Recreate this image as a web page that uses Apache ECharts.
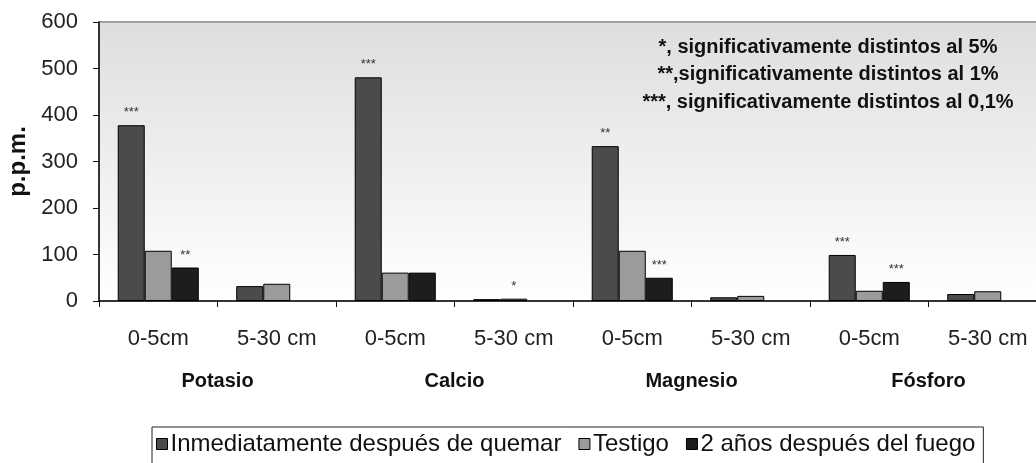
<!DOCTYPE html>
<html>
<head>
<meta charset="utf-8">
<script src="https://cdn.jsdelivr.net/npm/echarts@6/dist/echarts.min.js"></script>
<style>
  html, body { margin: 0; padding: 0; background: #ffffff; }
  #chart { width: 1036px; height: 463px; }
</style>
</head>
<body>
<div id="chart"></div>
<script>
// Soil depth classes, repeated for each nutrient
const depths = ['0-5cm', '5-30 cm', '0-5cm', '5-30 cm', '0-5cm', '5-30 cm', '0-5cm', '5-30 cm'];
const nutrients = ['Potasio', 'Calcio', 'Magnesio', 'Fósforo'];

// Concentrations in p.p.m.
const seriesNames = ['Inmediatamente después de quemar', 'Testigo', '2 años después del fuego'];
const afterBurn = [378, 32, 481, 4, 333, 8, 99, 15];
const control = [108, 37, 61, 5, 108, 11, 22, 21];
const twoYears = [72, null, 61, null, 50, null, 41, null];

// Significance marks shown above each bar
const sigAfterBurn = ['***', '', '***', '', '**', '', '***', ''];
const sigControl = ['', '', '', '*', '', '', '', ''];
const sigTwoYears = ['**', '', '', '', '***', '', '***', ''];

const yTicks = [0, 100, 200, 300, 400, 500, 600];

const notes = [
  '*, significativamente distintos al 5%',
  '**,significativamente distintos al 1%',
  '***, significativamente distintos al 0,1%'
];

const colors = ['#4b4b4b', '#9b9b9b', '#1d1d1d'];
const FONT = 'Liberation Sans, Arial, sans-serif';

function barSeries(name, data, marks, color) {
  return {
    name: name,
    type: 'bar',
    data: data,
    barGap: '0%',
    barCategoryGap: '31.6%',
    itemStyle: { color: color, borderColor: '#000', borderWidth: 1 },
    label: {
      show: true,
      position: 'top',
      distance: 6,
      fontFamily: FONT,
      fontSize: 13,
      color: '#333',
      formatter: p => marks[p.dataIndex] || ''
    }
  };
}

const chart = echarts.init(document.getElementById('chart'));
chart.setOption({
  animation: false,
  backgroundColor: '#ffffff',
  grid: {
    left: 99, top: 22, width: 948, height: 279,
    outerBoundsMode: 'none',
    containLabel: false,
    show: true,
    borderColor: '#a0a0a0',
    borderWidth: 2,
    backgroundColor: new echarts.graphic.LinearGradient(0, 0, 0, 1, [
      { offset: 0, color: '#dedede' },
      { offset: 1, color: '#ffffff' }
    ])
  },
  legend: {
    data: seriesNames,
    left: 152, top: 427,
    icon: 'rect',
    itemWidth: 11, itemHeight: 11,
    itemGap: 17,
    padding: [5, 8, 10, 4],
    borderColor: '#222',
    borderWidth: 1,
    backgroundColor: '#ffffff',
    itemStyle: { borderColor: '#000', borderWidth: 1 },
    textStyle: { fontFamily: FONT, fontSize: 24, color: '#111', padding: [0, 0, 0, -2] }
  },
  xAxis: [
    {
      type: 'category',
      data: depths,
      axisLine: { lineStyle: { color: '#111', width: 1.5 } },
      axisTick: { show: true, length: 6, lineStyle: { color: '#111' } },
      axisLabel: { fontFamily: FONT, fontSize: 22, color: '#222', margin: 27 }
    },
    {
      type: 'category',
      data: nutrients,
      position: 'bottom',
      offset: 62,
      axisLine: { show: false },
      axisTick: { show: false },
      axisLabel: { fontFamily: FONT, fontSize: 20, fontWeight: 'bold', color: '#111', margin: 8 }
    }
  ],
  yAxis: {
    type: 'value',
    min: yTicks[0],
    max: yTicks[yTicks.length - 1],
    interval: 100,
    name: 'p.p.m.',
    nameLocation: 'middle',
    nameRotate: 90,
    nameGap: 67,
    nameTextStyle: { fontFamily: FONT, fontSize: 24, fontWeight: 'bold', color: '#111' },
    axisLine: { show: true, lineStyle: { color: '#111', width: 1.5 } },
    axisTick: { show: true, length: 6, lineStyle: { color: '#111' } },
    splitLine: { show: false },
    axisLabel: { fontFamily: FONT, fontSize: 22, color: '#222', margin: 21 }
  },
  graphic: notes.map((t, i) => ({
    type: 'text',
    x: 828,
    y: 47 + i * 27.5,
    style: {
      text: t,
      align: 'center',
      verticalAlign: 'middle',
      fontFamily: FONT,
      fontSize: 20,
      fontWeight: 'bold',
      fill: '#111'
    }
  })),
  series: [
    barSeries(seriesNames[0], afterBurn, sigAfterBurn, colors[0]),
    barSeries(seriesNames[1], control, sigControl, colors[1]),
    barSeries(seriesNames[2], twoYears, sigTwoYears, colors[2])
  ]
});
</script>
</body>
</html>
